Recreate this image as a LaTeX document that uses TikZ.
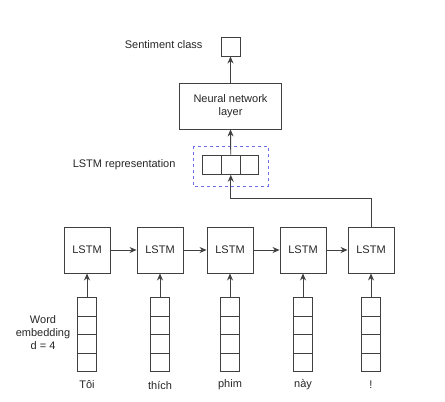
\documentclass[tikz,border=0pt]{standalone}
\usepackage{fontspec}
\setmainfont{Liberation Sans}
\usetikzlibrary{arrows.meta}

\tikzset{
  box/.style={draw=black!75, line width=0.9pt, inner sep=0pt},
  cell/.style={box, minimum width=19pt, minimum height=18.5pt},
  flow/.style={-{Stealth[length=7pt,width=6pt]}, draw=black!75, line width=0.9pt},
  lbl/.style={font=\fontsize{11}{13}\selectfont, text=black!85}
}

\begin{document}
\begin{tikzpicture}[x=1pt, y=-1pt]
  % Canvas
  \useasboundingbox (0,0) rectangle (445,402);
  % Sentiment class output
  \node[box, minimum size=19pt] (out) at (230.5,46.5) {};
  \node[lbl, anchor=east] (outlbl) at (206,45) {Sentiment class};
  % Neural network layer
  \node[box, lbl, align=center, minimum width=102pt, minimum height=46pt] (nn) at (230.5,106) {Neural network\\layer};
  % LSTM representation vector
  \foreach \k in {1,2,3} {
    \node[box, minimum width=18.7pt, minimum height=19.3pt] (r\k) at ({202.7+18.7*(\k-0.5)},164.7) {};
  }
  \draw[dashed, line width=0.9pt, draw={rgb,255:red,110;green,110;blue,235}] (193.3,146) rectangle (268.3,186);
  \node[lbl, anchor=east] (replbl) at (179,165) {LSTM representation};
  % LSTM cells, embeddings and words
  \foreach \i/\x/\w in {1/87/Tôi, 2/160/thích, 3/230/phim, 4/303/này, 5/371/!} {
    \node[box, lbl, minimum size=46pt] (l\i) at (\x,250) {LSTM};
    \foreach \j in {1,...,4} {
      \node[cell] (e\i-\j) at (\x,{297.5+18.5*(\j-0.5)}) {};
    }
    \node[lbl] (w\i) at (\x,385) {\w};
    \draw[flow] (e\i-1.north) -- (l\i.south);
  }
  % Recurrent links
  \foreach \i [evaluate=\i as \n using int(\i+1)] in {1,...,4} {
    \draw[flow] (l\i.east) -- (l\n.west);
  }
  % Word embedding label
  \node[lbl, align=center] (emblbl) at (43,333) {Word\\embedding\\d = 4};
  % Upward connections
  \draw[flow] (l5.north) -- (l5.north |- 0,198) -| (r2.south);
  \draw[flow] (r2.north) -- (nn.south);
  \draw[flow] (nn.north) -- (out.south);
\end{tikzpicture}
\end{document}
